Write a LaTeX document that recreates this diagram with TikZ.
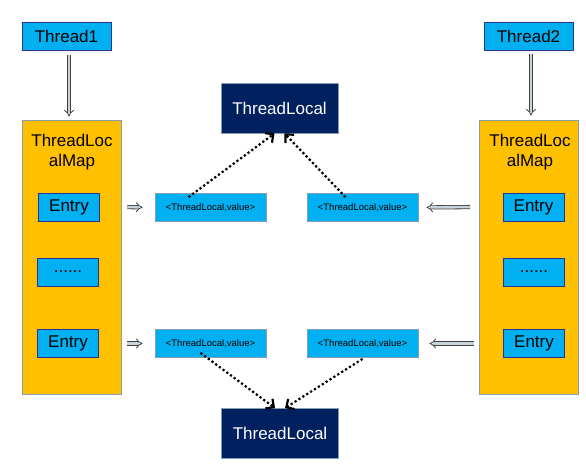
\documentclass[tikz,border=0pt]{standalone}
\usepackage{fontspec}
\setmainfont{Liberation Sans}
\usepackage{tikz}
\usetikzlibrary{arrows.meta}
\usetikzlibrary{backgrounds}
\definecolor{cyanfill}{RGB}{0,176,240}
\definecolor{navyline}{RGB}{46,49,146}
\definecolor{mapfill}{RGB}{255,192,0}
\definecolor{greyline}{RGB}{132,160,176}
\definecolor{navyfill}{RGB}{0,32,96}
\tikzstyle{thread}=[rectangle,
draw=navyline,
line width=0.8pt,
fill=cyanfill,
minimum width=89pt,
minimum height=28pt,
font=\fontsize{17}{20}\selectfont]
\tikzstyle{entry}=[rectangle,
draw=navyline,
line width=0.8pt,
fill=cyanfill,
minimum width=61pt,
minimum height=28pt,
font=\fontsize{17}{20}\selectfont]
\tikzstyle{mapbox}=[rectangle,
draw=greyline,
line width=0.8pt,
fill=mapfill,
minimum width=99pt,
minimum height=274pt]
\tikzstyle{pair}=[rectangle,
draw=greyline,
line width=0.8pt,
fill=cyanfill,
minimum width=111pt,
minimum height=28pt,
font=\fontsize{9.5}{11}\selectfont]
\tikzstyle{local}=[rectangle,
draw=greyline,
line width=0.8pt,
fill=navyfill,
text=white,
minimum width=117pt,
minimum height=50pt,
font=\fontsize{17}{20}\selectfont]
\tikzstyle{hollow}=[draw=black!75,
double=greyline!45,
double distance=2.6pt,
line width=0.8pt,
-{Implies}]
\tikzstyle{ref}=[line width=2.2pt,
dash pattern=on 2.2pt off 2.4pt,
-{Straight Barb[length=6pt,width=12pt]}]

\begin{document}
\begin{tikzpicture}[x=1pt,y=-1pt]
		\useasboundingbox (0,0) rectangle (586,470);
		
		% the two threads and their maps
		\node (thread1) [thread] at (66.5,36) {Thread1};
		\node (thread2) [thread] at (528.5,36) {Thread2};
		
		\node (title1) [align=center,font=\fontsize{17}{20}\selectfont] at (72,152) {ThreadLoc\\alMap};
		\node (entry1a) [entry] at (69,207) {Entry};
		\node (dots1)   [entry] at (68,272) {......};
		\node (entry1b) [entry] at (68,343.5) {Entry};
		
		\node (title2) [align=center,font=\fontsize{17}{20}\selectfont] at (530,152) {ThreadLoc\\alMap};
		\node (entry2a) [entry] at (533.5,207) {Entry};
		\node (dots2)   [entry] at (534,272) {......};
		\node (entry2b) [entry] at (534,343.5) {Entry};
		
		% the key/value pairs in the middle
		\node (pairTL) [pair] at (210.5,207.5) {<ThreadLocal,value>};
		\node (pairTR) [pair] at (362.5,207.5) {<ThreadLocal,value>};
		\node (pairBL) [pair] at (210.5,343.5) {<ThreadLocal,value>};
		\node (pairBR) [pair] at (362.5,343.5) {<ThreadLocal,value>};
		
		\node (localTop) [local] at (279.5,108) {ThreadLocal};
		\node (localBot) [local] at (280,433.5) {ThreadLocal};
		
		% the maps go behind their entries
		\begin{pgfonlayer}{background}
		\node (map1) [mapbox] at (71.5,257) {};
		\node (map2) [mapbox] at (529,257) {};
		\end{pgfonlayer}
		
		% hollow arrows
		\draw[hollow,shorten <=5pt,shorten >=3pt] (thread1.south -| 69,0) -- (map1.north -| 69,0);
		\draw[hollow,shorten <=4pt,shorten >=4pt] (thread2.south -| 531,0) -- (map2.north -| 531,0);
		\draw[hollow,shorten <=6pt,shorten >=12pt] (map1.east |- entry1a) -- (pairTL.west);
		\draw[hollow,shorten <=6pt,shorten >=12pt] (map1.east |- entry1b) -- (pairBL.west);
		\draw[hollow,shorten <=9pt,shorten >=8pt] (map2.west |- entry2a) -- (pairTR.east);
		\draw[hollow,shorten <=5pt,shorten >=11pt] (map2.west |- entry2b) -- (pairBR.east);
		
		% dotted references to the ThreadLocal objects
		\draw[ref] ([xshift=-22pt,yshift=-4pt]pairTL.north) -- ([xshift=-5pt]localTop.south);
		\draw[ref] ([xshift=-17pt,yshift=-4pt]pairTR.north) -- ([xshift=5pt]localTop.south);
		\draw[ref] ([xshift=-10pt,yshift=5pt]pairBL.south) -- ([xshift=-5pt]localBot.north);
		\draw[ref] ([yshift=-1pt]pairBR.south) -- ([xshift=5pt]localBot.north);
		\end{tikzpicture}
\end{document}
